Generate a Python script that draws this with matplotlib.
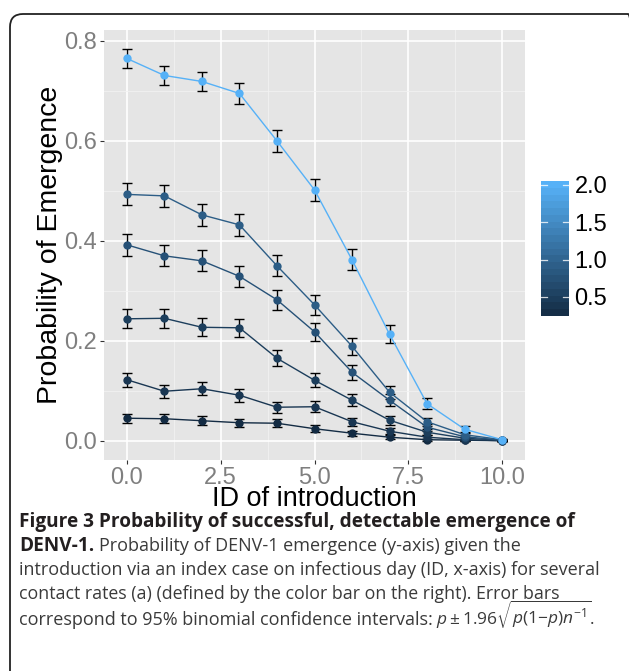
import numpy as np
import matplotlib
matplotlib.use('Agg')
import matplotlib.pyplot as plt
from matplotlib.colors import LinearSegmentedColormap, Normalize
from matplotlib.patches import FancyBboxPatch
from matplotlib.transforms import IdentityTransform

W, H = 629, 671

# infectious day of introduction
day = [0, 1, 2, 3, 4, 5, 6, 7, 8, 9, 10]

# contact rates (a), one per curve
contact_rate = [0.25, 0.4, 0.5, 0.75, 0.9, 2.0]

# probability of emergence
prob_a1 = [0.045, 0.044, 0.040, 0.036, 0.035, 0.024, 0.015, 0.007, 0.002, 0.001, 0.000]
prob_a2 = [0.122, 0.099, 0.104, 0.091, 0.067, 0.068, 0.038, 0.019, 0.007, 0.002, 0.000]
prob_a3 = [0.244, 0.245, 0.227, 0.226, 0.165, 0.121, 0.081, 0.041, 0.017, 0.005, 0.001]
prob_a4 = [0.392, 0.370, 0.360, 0.329, 0.282, 0.218, 0.137, 0.081, 0.027, 0.008, 0.001]
prob_a5 = [0.493, 0.490, 0.452, 0.432, 0.350, 0.272, 0.189, 0.097, 0.038, 0.012, 0.002]
prob_a6 = [0.765, 0.731, 0.719, 0.695, 0.600, 0.502, 0.362, 0.213, 0.074, 0.023, 0.002]
probs = [prob_a1, prob_a2, prob_a3, prob_a4, prob_a5, prob_a6]

n_sims = 2000  # simulations per point, for the binomial CI

x_ticks = [0.0, 2.5, 5.0, 7.5, 10.0]
y_ticks = [0.0, 0.2, 0.4, 0.6, 0.8]
cbar_ticks = [0.5, 1.0, 1.5, 2.0]


def px(x0, y0, w, h):
    # pixel box (from top-left) -> figure fraction rect
    return [x0 / W, 1 - (y0 + h) / H, w / W, h / H]


plt.rcParams['mathtext.fontset'] = 'custom'
plt.rcParams['mathtext.rm'] = 'Open Sans'
plt.rcParams['mathtext.it'] = 'Open Sans:italic'
plt.rcParams['mathtext.bf'] = 'Open Sans:bold'

cmap = LinearSegmentedColormap.from_list('gg', ['#132B43', '#56B1F7'])
norm = Normalize(vmin=min(contact_rate), vmax=max(contact_rate))

fig = plt.figure(figsize=(W / 100, H / 100), dpi=100)
fig.patch.set_facecolor('white')

# rounded frame around everything (partly cut off at right/bottom)
frame = FancyBboxPatch((10, -15), 631, H - 14 + 15, boxstyle='round,pad=0,rounding_size=13',
                       transform=IdentityTransform(), fill=False, edgecolor='#222222', lw=1.3)
fig.patches.append(frame)

ax = fig.add_axes(px(104, 30, 421, 430))
ax.set_facecolor('#E5E5E5')
for s in ax.spines.values():
    s.set_visible(False)

for a, p in zip(contact_rate, probs):
    p = np.array(p)
    err = 1.96 * np.sqrt(p * (1 - p) / n_sims)
    col = cmap(norm(a))
    ax.errorbar(day, p, yerr=err, fmt='none', ecolor='black', elinewidth=1.0,
                capsize=3.3, capthick=1.0, zorder=3)
    ax.plot(day, p, color=col, lw=1.0, zorder=4)
    ax.plot(day, p, 'o', color=col, ms=6, mec='none', zorder=5)

ax.set_xlim(-0.61, 10.61)
ax.set_ylim(-0.0386, 0.822)
ax.set_xticks(x_ticks)
ax.set_xticklabels(['%.1f' % v for v in x_ticks])
ax.set_yticks(y_ticks)
ax.set_yticklabels(['%.1f' % v for v in y_ticks])
ax.set_xticks([1.25, 3.75, 6.25, 8.75], minor=True)
ax.set_yticks([0.1, 0.3, 0.5, 0.7], minor=True)
ax.grid(which='major', color='white', lw=1.2, zorder=0)
ax.grid(which='minor', color='#F2F2F2', lw=0.6, zorder=0)
ax.set_axisbelow(True)
ax.tick_params(which='major', length=3, width=0.8, color='#333333',
               labelsize=17, labelcolor='#7F7F7F', pad=2)
ax.tick_params(which='minor', length=0)
for lab in ax.get_xticklabels() + ax.get_yticklabels():
    lab.set_family('Liberation Sans')

ax.set_xlabel('ID of introduction', fontsize=19.5, family='Liberation Sans', labelpad=-1.8)
ax.set_ylabel('Probability of Emergence', fontsize=20.5, family='Liberation Sans', labelpad=1)

# colour bar legend
cax = fig.add_axes(px(541, 181.3, 28, 134.4))
lo, hi = min(contact_rate), 2.044
edges = np.linspace(lo, hi, 21)
cax.pcolormesh([0, 1], edges, ((edges[:-1] + edges[1:]) / 2)[:, None],
               cmap=cmap, norm=norm, shading='flat')
for t in cbar_ticks:
    cax.plot([0, 0.2], [t, t], color='white', lw=0.9, alpha=0.8)
    cax.plot([0.8, 1], [t, t], color='white', lw=0.9, alpha=0.8)
cax.set_xlim(0, 1)
cax.set_ylim(lo, hi)
cax.set_xticks([])
cax.yaxis.tick_right()
cax.set_yticks(cbar_ticks)
cax.set_yticklabels(['%.1f' % v for v in cbar_ticks])
cax.tick_params(axis='y', length=0, labelsize=17, pad=4)
for lab in cax.get_yticklabels():
    lab.set_family('Liberation Sans')
for s in cax.spines.values():
    s.set_visible(False)

# caption
cap_font = 'Open Sans'
bold_size = 13.7
norm_size = 13.0
bold_col = '#231F20'
norm_col = '#3A3A3A'
x_left = 19 / W


def fy(y):
    return 1 - y / H


renderer = fig.canvas.get_renderer()
fig.text(x_left, fy(527), 'Figure 3 Probability of successful, detectable emergence of',
         family=cap_font, weight='bold', size=bold_size, color=bold_col, va='baseline')
t = fig.text(x_left, fy(551), 'DENV-1.', family=cap_font, weight='bold', size=bold_size,
             color=bold_col, va='baseline')
bb = t.get_window_extent(renderer)
fig.text((bb.x1 + 5) / W, fy(551), 'Probability of DENV-1 emergence (y-axis) given the',
         family=cap_font, size=norm_size, color=norm_col, va='baseline')
fig.text(x_left, fy(575), 'introduction via an index case on infectious day (ID, x-axis) for several',
         family=cap_font, size=norm_size, color=norm_col, va='baseline')
fig.text(x_left, fy(599), 'contact rates (a) (defined by the color bar on the right). Error bars',
         family=cap_font, size=12.8, color=norm_col, va='baseline')
t = fig.text(x_left, fy(625), 'correspond to 95% binomial confidence intervals: ',
             family=cap_font, size=norm_size, color=norm_col, va='baseline')
bb = t.get_window_extent(renderer)
fig.text((bb.x1 - 2) / W, fy(625), r'$p \pm 1.96\sqrt{p(1{-}p)n^{-1}}$.',
         family=cap_font, size=12.5, color=norm_col, va='baseline')

fig.savefig('out.png', dpi=100, facecolor='white')
